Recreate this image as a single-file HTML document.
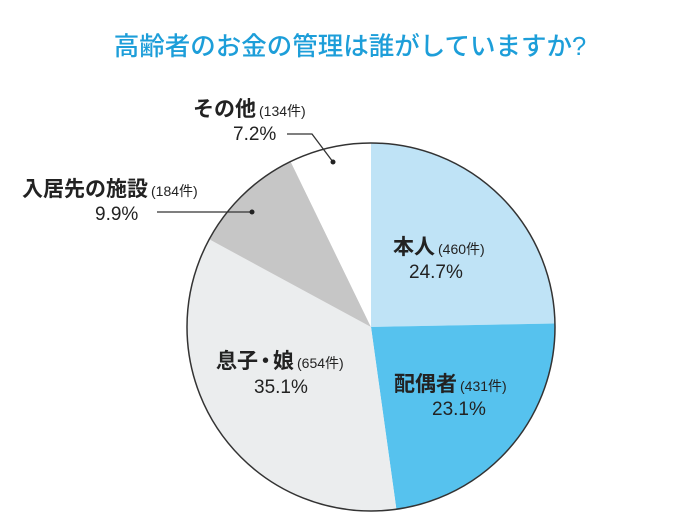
<!DOCTYPE html>
<html><head><meta charset="utf-8"><style>
html,body{margin:0;padding:0;background:#fff;}
svg{display:block;}
text{font-family:"Liberation Sans","Noto Sans CJK JP",sans-serif;fill:#222;}
.b{font-size:21px;font-weight:bold;}
.s{font-size:14px;}
.p{font-size:19px;}
</style></head><body>
<svg width="680" height="523" viewBox="0 0 680 523">
<text x="350" y="55" text-anchor="middle" style="font-size:25.5px;fill:#1d9ed9;font-weight:500">高齢者のお金の管理は誰がしていますか?</text>
<path d="M371,327 L371,143 A184,184 0 0 1 555,323.5 Z" fill="#bfe3f6"/>
<path d="M371,327 L555,323.5 A184,184 0 0 1 396.4,509.3 Z" fill="#56c2ee"/>
<path d="M371,327 L396.4,509.3 A184,184 0 0 1 209.2,239.3 Z" fill="#ebedee"/>
<path d="M371,327 L209.2,239.3 A184,184 0 0 1 290.6,161.5 Z" fill="#c6c6c6"/>
<path d="M371,327 L290.6,161.5 A184,184 0 0 1 371,143 Z" fill="#fff"/>
<circle cx="371" cy="327" r="184" fill="none" stroke="#333" stroke-width="1.5"/>
<polyline points="287,134 312,134 333,162" fill="none" stroke="#333" stroke-width="1.3"/>
<circle cx="333" cy="162" r="2.5" fill="#222"/>
<line x1="157" y1="212" x2="252" y2="212" stroke="#333" stroke-width="1.3"/>
<circle cx="252" cy="212" r="2.5" fill="#222"/>
<text x="193" y="116"><tspan class="b">その他</tspan><tspan class="s" dx="3">(134件)</tspan></text>
<text x="233" y="140" class="p">7.2%</text>
<text x="22" y="196"><tspan class="b">入居先の施設</tspan><tspan class="s" dx="3">(184件)</tspan></text>
<text x="95" y="220" class="p">9.9%</text>
<text x="393" y="254"><tspan class="b">本人</tspan><tspan class="s" dx="3">(460件)</tspan></text>
<text x="409" y="278" class="p">24.7%</text>
<text x="394" y="391"><tspan class="b">配偶者</tspan><tspan class="s" dx="3">(431件)</tspan></text>
<text x="432" y="415" class="p">23.1%</text>
<text x="216" y="368"><tspan class="b">息子</tspan><tspan class="b" dx="-3">・</tspan><tspan class="b" dx="-3">娘</tspan><tspan class="s" dx="3">(654件)</tspan></text>
<text x="254" y="393" class="p">35.1%</text>
</svg>
</body></html>
